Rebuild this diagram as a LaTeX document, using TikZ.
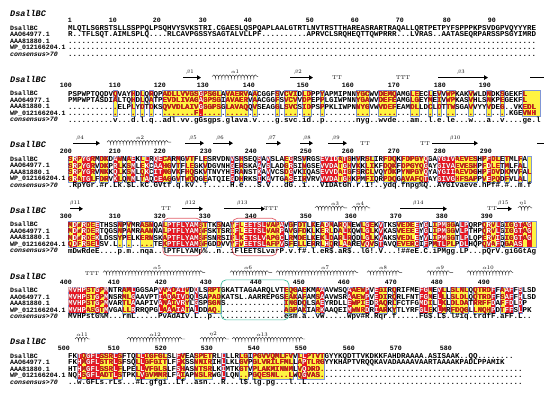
\documentclass[tikz,border=0pt]{standalone}
\usepackage{fontspec}
\newfontfamily\seqfont{Liberation Mono}
\usetikzlibrary{arrows.meta,decorations.pathmorphing}
\definecolor{espred}{RGB}{232,22,34}
\definecolor{espyellow}{RGB}{255,243,66}
\definecolor{espframe}{RGB}{128,150,214}
\definecolor{loopred}{RGB}{226,96,106}
\definecolor{loopteal}{RGB}{64,190,160}
\newcommand\gapx{..........}
\tikzset{
  seqtext/.style={anchor=base west, inner sep=0pt, font=\seqfont\bfseries\fontsize{7.5}{7.5}\selectfont},
  rowname/.style={anchor=base west, inner sep=0pt, font=\seqfont\bfseries\fontsize{6.6}{6.6}\selectfont},
  rulernum/.style={anchor=base east, inner sep=0pt, font=\seqfont\bfseries\fontsize{6.6}{6.6}\selectfont},
  blockhead/.style={anchor=base west, inner sep=0pt, font=\seqfont\bfseries\itshape\fontsize{8.5}{8.5}\selectfont},
  ssname/.style={inner sep=0pt, font=\fontsize{5.5}{5.5}\selectfont},
  turn/.style={inner sep=0pt, font=\fontsize{5.5}{5.5}\selectfont},
  strand/.style={line width=1.2pt, -{Triangle[length=4pt,width=4.5pt]}},
  helix/.style={decorate, decoration={coil, aspect=0.6, segment length=3.2pt, amplitude=1.7pt}, line width=0.45pt, black!80},
  colframe/.style={draw=espframe, line width=0.45pt},
  loopbox/.style={rounded corners=5pt, line width=0.7pt}
}
% the four sequence lines of a block, in one colour
\newcommand\alnrows[1]{%
  \foreach \i/\q in {0/\sqA,1/\sqB,2/\sqC,3/\sqD}
    \node[seqtext, text=#1] (row\i) at (68,{10.45+6.5*\i}) {\q};}
% names, black lines and consensus
\newcommand\alntext{%
  \foreach \i/\t in {0/DsallBC,1/AAO64977.1,2/AAA81880.1,3/WP\_012166204.1}
    \node[rowname] (name\i) at (10,{10.15+6.5*\i}) {\t};
  \node[rowname, font=\seqfont\bfseries\itshape\fontsize{6.6}{6.6}\selectfont] (name4) at (10,36.15) {consensus>70};
  \alnrows{black}
  \node[seqtext] (cons) at (68,36.45) {\sqE};}
% yellow and red columns with their frames
\newcommand\alnshade{%
  \foreach \a/\b in \ycols
    \fill[espyellow] ({68+4.5*\a},4.75) rectangle ({72.5+4.5*\b},30.75);
  \foreach \a/\b in \rcols
    \fill[espred] ({68+4.5*\a},4.75) rectangle ({72.5+4.5*\b},30.75);
  \foreach \a/\b in \ycols
    \draw[colframe] ({68+4.5*\a},4.75) rectangle ({72.5+4.5*\b},30.75);}
% red letters on yellow, white letters on red
\newcommand\alnpaint{%
  \foreach \a/\b in \ycols {
    \begin{scope}
      \clip ({68+4.5*\a},4.75) rectangle ({72.5+4.5*\b},30.75);
      \alnrows{espred}
    \end{scope}}
  \foreach \a/\b in \rcols {
    \begin{scope}
      \clip ({68+4.5*\a},4.75) rectangle ({72.5+4.5*\b},30.75);
      \alnrows{white}
    \end{scope}}}
\begin{document}
\begin{tikzpicture}[x=1pt,y=-1pt]
\fill[white] (0,0) rectangle (550,395);
\useasboundingbox (0,0) rectangle (550,395);

% 1-99
\begin{scope}[shift={(0,20)}]
  \def\sqA{MLQTLSGRSTSLLSSPPQLPSQHVYSVKSTRI.CGAESLQSPQAPLAALGTRTLNVTRSTTHAREASRARTRAQALLQRTPETPYFSPPPKPSVDGPVQYYYRE}
  \def\sqB{R..TFLSQT.AIMLSPLQ....RLCAVPGSSYSAGTALVLLPF..........APRVCLSRQHEQTTQWPRRR...LVRAS..AATASEQRPARSSPSGYIMRD}
  \def\sqC{\gapx\gapx\gapx\gapx\gapx\gapx\gapx\gapx\gapx\gapx....}
  \def\sqD{\sqC}\def\sqE{\sqC}
  \node[blockhead] (head1) at (10,-3.2) {DsallBC};
  \alntext
  \foreach \x/\n in {70/1,115/10,159/20,205/30,250/40,312/50,357/60,402/70,449/80,494/90}
    \node[rulernum] (n\n) at ({\x+2},2.2) {\n};
\end{scope}

% 100-199
\begin{scope}[shift={(0,85.6)}]
  \def\sqA{PSPWPTQQDVQVAYHDLQRQPADLLVVGSGPSGLAVAERVAACGGFSVCVIDLDPPYAPMIPNNYGCWVDEMQAMGLEECLEVVWPKAKVWLDNDKSGEKFL}
  \def\sqB{PMPWPTASDIALTQHDLQATPEVDLIVAGAGPSGIAVAERVAACGGFSVCVVDPEPPLGIWPNNYGAWVDEFEAMGLGEYMEIVWPKASVHLSNKPEGEKFL}
  \def\sqC{...........ELPLYDTDKSQVVDLAIVGGGPSGLAVAQQVSEAGGLSVCSIDPSPPKLIWPNNYGVWVDEFEAMDLLDCLDTTWSGAVVYYVDEG..VKEDL}
  \def\sqD{\gapx\gapx........F\gapx\gapx\gapx\gapx\gapx\gapx.........KGEVNH}
  \def\sqE{..........v...d.l.q..adl.vv.gGsgps.glava.v....g.svc.id..p.......nyg..wvde...am..l.e.le...w...a..v....ge.l}
  \def\ycols{10,14,16,18,21/33,35/39,41,46,48/50,52/53,56,64/66,69/72,76/77,80,82,84/85,89,93,96,101/104}
  \def\rcols{29}
  \alnshade
  \node[blockhead] (head2) at (10,-3.2) {DsallBC};
  \alntext
  \alnpaint
  \foreach \x/\n in {70/100,119/110,164/120,207/130,253/140,307/150,352/160,398/170,444/180,489/190}
    \node[rulernum] (n\n) at ({\x+2},2.2) {\n};
  \draw[strand] (183,-8) -- (201,-8);
  \node[ssname] (b1) at (190,-13.5) {$\beta$1};
  \draw[helix] (212,-9) -- (258,-9);
  \node[ssname] (a1) at (235,-13.5) {$\alpha$1};
  \draw[strand] (290,-8) -- (313,-8);
  \node[ssname] (b2) at (298,-13.5) {$\beta$2};
  \node[turn] (t1) at (337,-8) {TT};
  \node[turn] (t2) at (403,-8) {TTT};
  \draw[strand] (438,-8) -- (488,-8);
  \node[ssname] (b3) at (461,-13.5) {$\beta$3};
  \draw[line width=1.2pt] (530,-8) -- (544,-8);
\end{scope}

% 200-299
\begin{scope}[shift={(0,151.2)}]
  \def\sqA{SRPYGRMDKDAWNAEKLLRQECARMGVTFLESRVDNVSHSEQSAVSLAEGRSVRGSEVIDATGHVRSLIRFDQKFDPGYQGAYGIVAEVESHPFDLETMLFA}
  \def\sqB{SRPYGRVDKPRLKSMLEKCAAHGVTFLEGKVDGVNHGERSKAAVSLADGRSINGSEVVDATGHVKKLIKFDQKFDPGYQGAYGIVAEVESHPFDLETMLFAL}
  \def\sqC{SRPYGRVNKKQLKSMLQKCITNGVKFHQSKVTNVYHERANSTKAVVCSDGVKIQASEVVDAIGFSRCLVQYDKPYNPGYQYAYGIIAEVDGHPFDVDKMVFAL}
  \def\sqD{GRATGLFDRVKLQNMLTAQCEAGGVTWQQGEATQIEGDHRKSIKAVTGASEIRVRVVVDATGHKPMFIQRPDQGAVAFQTAYGIVGHFSAPPVEPQDFVLAL}
  \def\sqE{.RpYGr.\#r.Lk.\$L.kC.GVtf.q.kv..!.....H.e...S.V...dG..i...VIDAtGh.r.1!..ydq.fnpg\%Q..AYGIvaeve.hPf\#.\#..m.f}
  \def\ycols{0/5,7/8,10/11,13/14,16/17,19/22,24,26/27,30,36,38,42,44,48/49,52,56/62,64,66/67,70/72,74/79,82/90,92/95,97,100,102}
  \def\rcols{1,3/4,10,14,17,19/20,36,42,44,49,56/59,61,79,82/85,93}
  \alnshade
  \node[blockhead] (head3) at (10,-3.2) {DsallBC};
  \alntext
  \alnpaint
  \foreach \x/\n in {70/200,119/210,164/220,210/230,255/240,310/250,352/260,398/270,444/280,490/290}
    \node[rulernum] (n\n) at ({\x+2},2.2) {\n};
  \draw[strand] (73,-8) -- (100,-8);
  \node[ssname] (b4) at (80,-13.5) {$\beta$4};
  \draw[helix] (107,-9) -- (171,-9);
  \node[ssname] (a2) at (140,-13.5) {$\alpha$2};
  \draw[strand] (185,-8) -- (204,-8);
  \node[ssname] (b5) at (193,-13.5) {$\beta$5};
  \draw[strand] (213,-8) -- (233,-8);
  \node[ssname] (b6) at (220,-13.5) {$\beta$6};
  \draw[strand] (266,-8) -- (281,-8);
  \node[ssname] (b7) at (272,-13.5) {$\beta$7};
  \draw[strand] (300,-8) -- (313,-8);
  \node[ssname] (b8) at (307,-13.5) {$\beta$8};
  \draw[strand] (328,-8) -- (347,-8);
  \node[ssname] (b9) at (336,-13.5) {$\beta$9};
  \node[turn] (t3) at (365,-8) {TT};
  \node[turn] (t4) at (425,-8) {TT};
  \draw[strand] (432,-8) -- (478,-8);
  \node[ssname] (b10) at (455,-13.5) {$\beta$10};
  \draw[line width=1.2pt] (537,-8) -- (544,-8);
\end{scope}

% 300-399
\begin{scope}[shift={(0,216.8)}]
  \def\sqA{MDWRDEETHSSNPVMRASNQALPTFLYAMSTTKSNAYFLEETSLVAPAVGFDTLKEADMARQMEWLGEKVTKSVEDEEYGLIPMGGALPQRPQRVLGIGGTAG}
  \def\sqB{MDWRDERTQGSNPAMRAANNALPTFLYAMGFSKTSRIFLEETSLVARPAVGFDKLKERLDALKQWLGLKVKASVEEEEYGLIPMGGVLPTHPQRVLGIGGTAG}
  \def\sqC{MDWRDEKLDSSYPELKERNSKAPTFLYAMSFSNRSIFLKETSLVAPGCLRMDELKEKLDARLRQDLGLKVAKSVEDLEYVLIPMGGTLPLQPERVIGIGGTAG}
  \def\sqD{QDFRSELSV.L........TEKPTFLYAMGFGDDVVYFVEETSLAFPVSFELLERRLHQRLAAREVQVSTAVQEVERCIFPMTLPLPDLHQPQVAFQGAAS}
  \def\sqE{mDwRdeE....p.m..nqa..lPTFLYAMp\%..n..iFlEETSLvarP.v.f\#.l.eR\$.aR\$..lG!.V...!\#\#eE.C.iPMgg.LP...pQrV.giGGtAg}
  \def\ycols{0/6,11,13,16/18,21/30,33,36/47,49,51/52,54,56/58,60/62,65/67,69,73/77,79,81/85,87/88,92/95,97/103}
  \def\rcols{1,3,6,22/28,37,39/43,47,57,61,66,69,77,79,82/83,87/88,93,95,99/100,102}
  \alnshade
  \node[blockhead] (head4) at (10,-3.2) {DsallBC};
  \alntext
  \alnpaint
  \draw[loopbox, loopred] (163,1.5) rectangle (201.5,39);
  \draw[loopbox, loopred] (232.5,1.5) rectangle (277,39);
  \foreach \x/\n in {70/300,119/310,164/320,209/330,255/340,310/350,355/360,400/370,446/380,491/390}
    \node[rulernum] (n\n) at ({\x+2},2.2) {\n};
  \draw[strand] (70,-8) -- (83,-8);
  \node[ssname] (b11) at (75,-13.5) {$\beta$11};
  \node[turn] (t5) at (166,-8) {TT};
  \draw[strand] (182,-8) -- (203,-8);
  \node[ssname] (b12) at (190,-13.5) {$\beta$12};
  \draw[strand] (224,-8) -- (265,-8);
  \node[ssname] (b13) at (242,-13.5) {$\beta$13};
  \node[turn] (t6) at (271,-8) {TTT};
  \draw[helix] (315,-9) -- (347,-9);
  \node[ssname] (a3) at (335,-13.5) {$\alpha$3};
  \draw[helix] (352,-9) -- (370,-9);
  \node[ssname] (a4) at (360,-13.5) {$\alpha$4};
  \draw[strand] (400,-8) -- (447,-8);
  \node[ssname] (b14) at (418,-13.5) {$\beta$14};
  \node[turn] (t7) at (492,-8) {TT};
  \draw[strand] (497,-8) -- (512,-8);
  \node[ssname] (b15) at (503,-13.5) {$\beta$15};
  \draw[helix] (518,-9) -- (532,-9);
  \node[ssname] (e1) at (523,-13.5) {$\eta$1};
\end{scope}

% 400-499
\begin{scope}[shift={(0,282.4)}]
  \def\sqA{MVHPSTGPMNTRAMLGGSAPVVADAIVDQLSRPTGKATTAGAARQLVTEQGAEKMAAAVWSQAAEWPVEGIRQRIFMEFGMEVLLSLNLQQTRDFFAAFFSLSD}
  \def\sqB{MVHPSTGPMNSRMLGAAVPTIADAIVDQLSAPADKATSL.AARREPGSEAKAFAMSAAVWSRAAEWPVEDIRQRLFNTFGMELLLSLDLQQTRDFFSAFFHLSD}
  \def\sqC{MVHPSTGPMVARTLAAAPIVANAIVRYLGSPSGNS.............INGDQLSAEYRDLLEWPIEDRAQRLFCTFGMDILLKLDLDATRRFFDAFFDLDP}
  \def\sqD{MVHPASGTMVGALLRRRQPGLAAAIATALDDAQ...............AGPAKIARKAAQEIMWNRDRIARKYTLYRFGLEKLMRFDQGLLNQHPDTFFSLPK}
  \def\sqE{MVHPstG\%M...rmL.....PvAdAIv.L..p................esm.a..vW.....Wpv\#R.Rqr.f.....FG\$.L\$.l\#iq.trdfF.aFF.L..}
  \def\ycols{0/8,12/14,20/26,28,31/33,48/50,52,55/56,62/66,68/70,72,78/80,82/83,85/88,90/94,96/98,100}
  \def\rcols{0/3,6,8,14,20,22,24/25,28,56,62,66,68,78/79,82,94,97/98,100}
  \alnshade
  \node[blockhead] (head5) at (10,-3.2) {DsallBC};
  \alntext
  \alnpaint
  \draw[loopbox, loopteal] (221,-2.5) rectangle (289,37.5);
  \foreach \x/\n in {70/400,118/410,165/420,210/430,260/440,303/450,348/460,395/470,441/480,488/490}
    \node[rulernum] (n\n) at ({\x+2},2.2) {\n};
  \node[turn] (t8) at (92,-9) {TTT};
  \draw[helix] (103,-10) -- (205,-10);
  \node[ssname] (a5) at (157,-15) {$\alpha$5};
  \draw[helix] (230,-10) -- (272,-10);
  \node[ssname] (a6) at (248,-15) {$\alpha$6};
  \draw[helix] (276,-10) -- (358,-10);
  \node[ssname] (a7) at (325,-15) {$\alpha$7};
  \draw[helix] (367,-10) -- (402,-10);
  \node[ssname] (a8) at (383,-15) {$\alpha$8};
  \draw[helix] (427,-10) -- (453,-10);
  \node[ssname] (a9) at (440,-15) {$\alpha$9};
  \draw[helix] (467,-10) -- (513,-10);
  \node[ssname] (a10) at (488,-15) {$\alpha$10};
\end{scope}

% 500-
\begin{scope}[shift={(0,348)}]
  \def\sqA{FKTQGFLSSRLSFTQLLIGFGLSLFVEASPETRLLLLRLGIPGVVQMLFVVLLPTVTGYYKQDTTVKDKKFAHDRAAAA.ASISAAK..QQ........}
  \def\sqB{FKHMGFLSTRLSFSQLLGFGITLFFKSSNNIRIHLLKLGVPGLVRILFMLLAPTLRGYYKHAPTVRQQKAVADAAAAVAARTAAAAKPADLPPAMIK}
  \def\sqC{HTHMGFLSSRLFLPELLVFGLSLFSHASNTSRLKIMTKGTVPLAKMINNMLVQDRD\gapx\gapx\gapx\gapx.....}
  \def\sqD{NQHSGFLADTLSTPKLVGVMMRLFAIAPNSLRWGLLQN..PGQESNL..LWQGVAS\gapx\gapx\gapx\gapx.....}
  \def\sqE{..w.GFLs.rLs...\#L.gfgi..Lf..asn...R...l\$.lg.pg...l..L\gapx\gapx\gapx\gapx........}
  \def\ycols{2/11,15/21,24/25,28/31,34,38/39,41/49,51/56}
  \def\rcols{2,4/6,10,16,24,34,52}
  \alnshade
  \node[blockhead] (head6) at (10,-3.2) {DsallBC};
  \alntext
  \alnpaint
  \foreach \x/\n in {68/500,118/510,165/520,211/530,258/540,305/550,353/560,400/570,450/580}
    \node[rulernum] (n\n) at ({\x+2},2.2) {\n};
  \draw[helix] (75,-9) -- (90,-9);
  \node[ssname] (a11) at (82,-13.5) {$\alpha$11};
  \draw[helix] (127,-9) -- (185,-9);
  \node[ssname] (a12) at (155,-13.5) {$\alpha$12};
  \draw[helix] (200,-9) -- (229,-9);
  \node[ssname] (e2) at (213,-13.5) {$\eta$2};
  \draw[helix] (232,-9) -- (305,-9);
  \node[ssname] (a13) at (262,-13.5) {$\alpha$13};
\end{scope}
\end{tikzpicture}
\end{document}
